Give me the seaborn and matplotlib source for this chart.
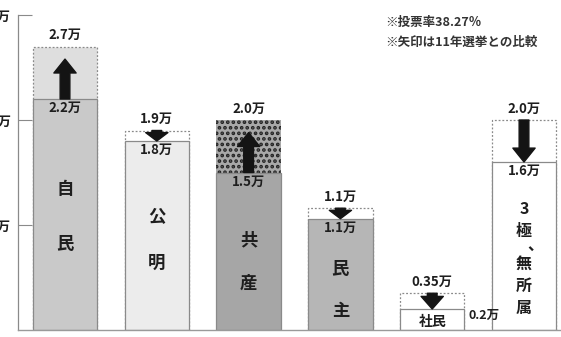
import matplotlib
matplotlib.use('Agg')
import matplotlib.pyplot as plt
import seaborn as sns
import pandas as pd

# ---- data ----
parties = ['自民', '公明', '共産', '民主', '社民', '3極、無所属']
prev_votes = [2.2, 1.9, 1.5, 1.16, 0.35, 2.0]    # 万票 (2011 election)
now_votes = [2.7, 1.8, 2.0, 1.06, 0.2, 1.6]      # 万票 (this election)
prev_labels = ['2.2万', '1.9万', '1.5万', '1.1万', '0.35万', '2.0万']
now_labels = ['2.7万', '1.8万', '2.0万', '1.1万', '0.2万', '1.6万']
yticks = [1, 2, 3]
ytick_labels = ['1万', '2万', '3万']
notes = ['※投票率38.27％', '※矢印は11年選挙との比較']

# ---- styles ----
base_colors = ['#c9c9c9', '#ececec', '#a6a6a6', '#b6b6b6', '#ffffff', '#ffffff']
top_colors = ['#dedede', '#ffffff', '#a8a8a8', '#ffffff', '#ffffff', '#ffffff']
label_frac = [0.49, 0.48, 0.43, 0.36, None, 0.426]   # vertical label centre, fraction of base bar
char_step_px = [55, 47, 43, 42, None, 22]
BAR_W = 0.70
PX_PER_UNIT = 105.0
PT = 72.0 / 100.0  # points per pixel
TXT = '#1e1e1e'

sns.set_theme(style='white')
plt.rcParams['font.family'] = ['Noto Sans CJK JP', 'DejaVu Sans']
plt.rcParams['hatch.linewidth'] = 1.8

fig = plt.figure(figsize=(5.61, 3.37), dpi=100)
fig.patch.set_facecolor('white')
ax = fig.add_axes([18 / 561, 7 / 337, 1 - 18 / 561, 330 / 337])

df = pd.DataFrame({'party': parties, 'prev': prev_votes, 'now': now_votes})
df['top'] = df[['prev', 'now']].max(axis=1)
df['base'] = df[['prev', 'now']].min(axis=1)

sns.barplot(data=df, x='party', y='top', hue='party', palette=top_colors,
            saturation=1, width=BAR_W, edgecolor='#8a8a8a', linewidth=0.9,
            linestyle=(0, (1.5, 1.5)), legend=False, ax=ax)
sns.barplot(data=df, x='party', y='base', hue='party', palette=base_colors,
            saturation=1, width=BAR_W, edgecolor='#8a8a8a', linewidth=0.9,
            legend=False, ax=ax)

# dotted pattern for 共産 gain region
p = ax.patches[2]
p.set_hatch('...')
p.set_edgecolor('#222222')
p.set_linestyle('-')
p.set_linewidth(0)

ax.set_xlim(-0.512, 5.403)
ax.set_ylim(0, 330 / PX_PER_UNIT)

# arrows: from 2011 value toward this election's value
for i, (pv, n) in enumerate(zip(prev_votes, now_votes)):
    end = n - 0.12 if n > pv else n
    start = pv
    length_pt = abs(end - start) * PX_PER_UNIT * PT
    hl = min(10.0, 0.8 * length_pt)
    style = 'simple,head_length=%.3f,head_width=%.3f,tail_width=%.3f' % (hl / 10, 1.6, 0.7)
    ax.annotate('', xy=(i, end), xytext=(i, start),
                arrowprops=dict(arrowstyle=style, mutation_scale=10,
                                color='#141414', shrinkA=0, shrinkB=0), zorder=5)

# value labels
for i, (pv, n) in enumerate(zip(prev_votes, now_votes)):
    top, base = max(pv, n), min(pv, n)
    top_lab = now_labels[i] if n > pv else prev_labels[i]
    base_lab = prev_labels[i] if n > pv else now_labels[i]
    ax.annotate(top_lab, (i, top), xytext=(0, 3), textcoords='offset points',
                ha='center', va='bottom', fontsize=9.5, weight='bold', color=TXT)
    if parties[i] == '社民':
        ax.annotate(base_lab, (i + BAR_W / 2, base * 0.7), xytext=(3, 0),
                    textcoords='offset points', ha='left', va='center',
                    fontsize=9, weight='bold', color=TXT)
    else:
        ax.annotate(base_lab, (i, base), xytext=(0, -1.5), textcoords='offset points',
                    ha='center', va='top', fontsize=9.5, weight='bold', color=TXT)

# category labels (vertical writing; 、 takes half a step)
for i, name in enumerate(parties):
    base = min(prev_votes[i], now_votes[i])
    if label_frac[i] is None:
        ax.annotate(name, (i, 0), xytext=(0, 0.5), textcoords='offset points',
                    ha='center', va='bottom', fontsize=10, weight='bold', color=TXT)
        continue
    pos, slots = [], 0.0
    for c in name:
        if c == '、':
            pos.append((c, slots + 0.25))
            slots += 0.5
        else:
            pos.append((c, slots))
            slots += 1
    span = pos[-1][1]
    fs = 11.5 if len(name) > 2 else 12.5
    cy = base * label_frac[i]
    step = char_step_px[i] * PT
    for c, s in pos:
        off = (span / 2 - s) * step
        if c == '、':
            ax.annotate(c, (i, cy), xytext=(8, off + 10), textcoords='offset points',
                        ha='center', va='center', fontsize=fs, weight='bold', color=TXT)
        else:
            ax.annotate(c, (i, cy), xytext=(0, off), textcoords='offset points',
                        ha='center', va='center', fontsize=fs, weight='bold', color=TXT)

# axes styling
ax.set_xticks([])
ax.set_xlabel('')
ax.set_ylabel('')
ax.set_yticks(yticks)
ax.set_yticklabels(ytick_labels, fontsize=9.5, weight='bold', color=TXT)
ax.tick_params(axis='y', direction='in', length=10, width=0.8, color='#8a8a8a', pad=5, left=True)
for s in ['top', 'right']:
    ax.spines[s].set_visible(False)
ax.spines['left'].set_bounds(0, 3)
ax.spines['left'].set_color('#8a8a8a')
ax.spines['left'].set_linewidth(0.9)
ax.spines['bottom'].set_color('#9a9a9a')
ax.spines['bottom'].set_linewidth(1.0)

# notes
fig.text(385 / 561, 1 - 22 / 337, notes[0], ha='left', va='center', fontsize=9,
         weight='bold', color='#333333')
fig.text(385 / 561, 1 - 42 / 337, notes[1], ha='left', va='center', fontsize=9,
         weight='bold', color='#333333')

fig.savefig('out.png', dpi=100, facecolor='white')
